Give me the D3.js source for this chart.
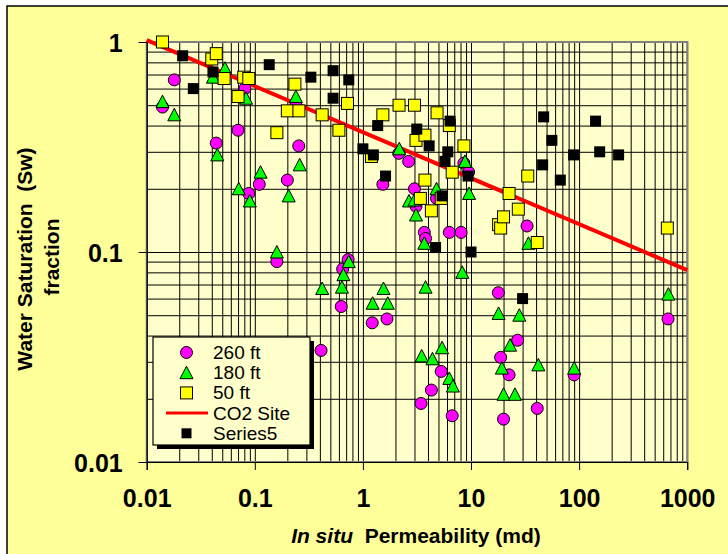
<!DOCTYPE html>
<html>
<head>
<meta charset="utf-8">
<script src="https://cdnjs.cloudflare.com/ajax/libs/d3/7.8.5/d3.min.js"></script>
<style>
  body { margin: 0; background: #fff; }
  svg text { font-family: "Liberation Sans", Arial, sans-serif; }
</style>
</head>
<body>
<script>
// permeability (md), water saturation (fraction)
var ft260 = [[0.014,0.49],[0.018,0.66],[0.044,0.33],[0.07,0.38],[0.081,0.60],[0.088,0.19],[0.11,0.21],
  [0.16,0.09],[0.20,0.22],[0.24,0.50],[0.255,0.32],[0.41,0.034],[0.63,0.055],[0.65,0.083],[0.73,0.092],
  [1.22,0.046],[1.53,0.21],[1.67,0.048],[2.15,0.295],[2.65,0.27],[3.0,0.20],[3.1,0.165],[3.45,0.019],
  [3.7,0.124],[3.8,0.116],[4.3,0.022],[4.8,0.18],[5.3,0.027],[6.3,0.124],[6.7,0.0166],[8.1,0.124],
  [8.6,0.265],[9.5,0.24],[17.9,0.064],[18.8,0.0315],[20,0.016],[22.5,0.026],[27,0.038],[33,0.133],
  [41,0.018],[90,0.026],[665,0.048]];
var ft180 = [[0.014,0.52],[0.018,0.45],[0.041,0.68],[0.045,0.29],[0.053,0.75],[0.071,0.20],[0.083,0.54],
  [0.09,0.175],[0.113,0.24],[0.16,0.10],[0.206,0.185],[0.24,0.55],[0.26,0.26],[0.42,0.067],[0.64,0.068],
  [0.66,0.078],[0.74,0.09],[1.23,0.057],[1.55,0.067],[1.7,0.057],[2.17,0.31],[2.67,0.175],[3.0,0.177],
  [3.1,0.15],[3.5,0.032],[3.7,0.11],[3.8,0.068],[4.4,0.031],[4.8,0.20],[5.4,0.035],[6.3,0.025],[6.8,0.023],
  [8.3,0.080],[8.8,0.27],[9.6,0.19],[18,0.051],[19.3,0.028],[20,0.021],[23,0.036],[25.5,0.021],[28,0.050],
  [34,0.11],[42,0.029],[90,0.028],[670,0.063]];
var ft50 = [[0.014,1.0],[0.040,0.83],[0.044,0.88],[0.052,0.67],[0.070,0.55],[0.079,0.68],[0.088,0.67],
  [0.16,0.37],[0.20,0.47],[0.235,0.63],[0.256,0.47],[0.42,0.45],[0.60,0.38],[0.72,0.51],[1.2,0.285],
  [1.53,0.45],[2.16,0.50],[3.0,0.50],[3.1,0.34],[3.4,0.18],[3.75,0.36],[3.75,0.22],[4.3,0.157],[4.85,0.46],
  [5.3,0.18],[6.3,0.40],[6.7,0.24],[8.6,0.32],[18,0.135],[18.8,0.13],[20,0.147],[22.5,0.19],[27.4,0.16],
  [33.5,0.23],[41,0.111],[655,0.13]];
var series5 = [[0.0215,0.86],[0.027,0.60],[0.041,0.72],[0.136,0.78],[0.33,0.68],[0.53,0.73],[0.53,0.54],
  [0.74,0.66],[1.0,0.31],[1.25,0.29],[1.37,0.40],[1.62,0.23],[3.15,0.385],[4.1,0.32],[4.7,0.105],[5.4,0.185],
  [5.75,0.27],[6.1,0.30],[6.4,0.42],[9.4,0.23],[10,0.10],[30,0.06],[46,0.26],[47,0.44],[56,0.34],[67,0.22],
  [89,0.29],[142,0.42],[155,0.30],[232,0.29]];
var co2Site = [[0.01,1.02],[1000,0.082]];

var xTicks = [0.01,0.1,1,10,100,1000];
var yTicks = [0.01,0.1,1];
var legendNames = ['260 ft','180 ft','50 ft','CO2 Site','Series5'];

var W = 728, H = 554;
var plot = {left: 146.7, top: 42, right: 687.2, bottom: 462};

var svg = d3.select('body').append('svg')
            .attr('width', W)
            .attr('height', H);

// chart area
svg.append('rect').attr('x', 7).attr('y', 6).attr('width', 740).attr('height', 560)
   .attr('fill', '#FFFF99').attr('stroke', '#000').attr('stroke-width', 1.5);

var x = d3.scaleLog().domain([0.01, 1000]).range([plot.left, plot.right]);
var y = d3.scaleLog().domain([0.01, 1]).range([plot.bottom, plot.top]);

svg.append('rect').attr('x', plot.left).attr('y', plot.top)
   .attr('width', plot.right - plot.left).attr('height', plot.bottom - plot.top)
   .attr('fill', '#FFFFCC');

// all 1..9 gridlines per decade
var minorX = [], minorY = [];
for (var d = -2; d < 3; d++) for (var k = 1; k < 10; k++) minorX.push(k * Math.pow(10, d));
minorX.push(1000);
for (var d = -2; d < 0; d++) for (var k = 1; k < 10; k++) minorY.push(k * Math.pow(10, d));
minorY.push(1);

svg.append('g').attr('class', 'gridx')
   .attr('transform', 'translate(0,' + plot.bottom + ')')
   .call(d3.axisBottom(x).tickValues(minorX).tickSize(-(plot.bottom - plot.top)).tickFormat(''))
   .call(function(g){ g.select('.domain').remove(); g.selectAll('line').attr('stroke', '#000'); });

svg.append('g').attr('class', 'gridy')
   .attr('transform', 'translate(' + plot.left + ',0)')
   .call(d3.axisLeft(y).tickValues(minorY).tickSize(-(plot.right - plot.left)).tickFormat(''))
   .call(function(g){ g.select('.domain').remove(); g.selectAll('line').attr('stroke', '#000'); });

svg.append('rect').attr('x', plot.left).attr('y', plot.top)
   .attr('width', plot.right - plot.left).attr('height', plot.bottom - plot.top)
   .attr('fill', 'none').attr('stroke', '#808080').attr('stroke-width', 2);

// axes
var fmt = function(v){ return v < 1 ? String(v) : d3.format('d')(v); };
var xAxis = svg.append('g').attr('transform', 'translate(0,' + plot.bottom + ')')
   .call(d3.axisBottom(x).tickValues(xTicks).tickSize(8).tickPadding(19).tickFormat(fmt));
var yAxis = svg.append('g').attr('transform', 'translate(' + plot.left + ',0)')
   .call(d3.axisLeft(y).tickValues(yTicks).tickSize(8).tickPadding(16).tickFormat(fmt));
[xAxis, yAxis].forEach(function(a){
  a.select('.domain').attr('stroke', '#000').attr('stroke-width', 1.2);
  a.selectAll('line').attr('stroke', '#000');
  a.selectAll('text').attr('fill', '#000').style('font-size', '25px').style('font-weight', 'bold')
   .style('font-family', '"Liberation Sans", Arial, sans-serif');
});
yAxis.selectAll('text').attr('dy', '0.36em');

// titles
var xt = svg.append('text').attr('x', 416).attr('y', 543).attr('text-anchor', 'middle')
   .style('font-size', '21px').style('font-weight', 'bold');
xt.append('tspan').style('font-style', 'italic').text('In situ');
xt.append('tspan').text('\u00a0 Permeability (md)');

svg.append('text').attr('transform', 'translate(32,259) rotate(-90)').attr('text-anchor', 'middle')
   .style('font-size', '21px').style('font-weight', 'bold').text('Water Saturation\u00a0 (Sw)');
svg.append('text').attr('transform', 'translate(59,257) rotate(-90)').attr('text-anchor', 'middle')
   .style('font-size', '21px').style('font-weight', 'bold').text('fraction');

// CO2 site trend
var line = d3.line().x(function(d){ return x(d[0]); }).y(function(d){ return y(d[1]); });
svg.append('path').datum(co2Site).attr('d', line)
   .attr('fill', 'none').attr('stroke', '#FF0000').attr('stroke-width', 4);

var triPath = 'M0,-6.5L6.5,6L-6.5,6Z';

svg.selectAll('circle.a').data(ft260).enter().append('circle')
   .attr('class', 'a')
   .attr('cx', function(d){ return x(d[0]); })
   .attr('cy', function(d){ return y(d[1]); })
   .attr('r', 6)
   .attr('fill', '#FF00FF').attr('stroke', '#000').attr('stroke-width', 1);

svg.selectAll('path.b').data(ft180).enter().append('path')
   .attr('class', 'b')
   .attr('d', triPath)
   .attr('transform', function(d){ return 'translate(' + x(d[0]) + ',' + y(d[1]) + ')'; })
   .attr('fill', '#00FF00').attr('stroke', '#000').attr('stroke-width', 1);

svg.selectAll('rect.c').data(ft50).enter().append('rect')
   .attr('class', 'c')
   .attr('x', function(d){ return x(d[0]) - 6; })
   .attr('y', function(d){ return y(d[1]) - 6; })
   .attr('width', 12).attr('height', 12)
   .attr('fill', '#FFFF00').attr('stroke', '#000').attr('stroke-width', 1);

svg.selectAll('rect.s5').data(series5).enter().append('rect')
   .attr('class', 's5')
   .attr('x', function(d){ return x(d[0]) - 5.5; })
   .attr('y', function(d){ return y(d[1]) - 5.5; })
   .attr('width', 11).attr('height', 11)
   .attr('fill', '#000');

// legend
var lg = svg.append('g').attr('transform', 'translate(153,337)');
lg.append('rect').attr('x', 4).attr('y', 4).attr('width', 157).attr('height', 108).attr('fill', '#000');
lg.append('rect').attr('width', 157).attr('height', 108)
  .attr('fill', '#FFFFCC').attr('stroke', '#000').attr('stroke-width', 1.2);

var rowY = function(i){ return 15.5 + i * 20.2; };
var lx = 33.5;
lg.append('circle').attr('cx', lx).attr('cy', rowY(0)).attr('r', 6)
  .attr('fill', '#FF00FF').attr('stroke', '#000');
lg.append('path').attr('d', triPath).attr('transform', 'translate(' + lx + ',' + rowY(1) + ')')
  .attr('fill', '#00FF00').attr('stroke', '#000');
lg.append('rect').attr('x', lx - 6).attr('y', rowY(2) - 6).attr('width', 12).attr('height', 12)
  .attr('fill', '#FFFF00').attr('stroke', '#000');
lg.append('line').attr('x1', 13).attr('x2', 55).attr('y1', rowY(3)).attr('y2', rowY(3))
  .attr('stroke', '#FF0000').attr('stroke-width', 3);
lg.append('rect').attr('x', lx - 5).attr('y', rowY(4) - 5).attr('width', 10).attr('height', 10)
  .attr('fill', '#000');

lg.selectAll('text.lt').data(legendNames).enter().append('text')
  .attr('class', 'lt')
  .attr('x', 60)
  .attr('y', function(d, i){ return rowY(i) + 6.5; })
  .style('font-size', '19px')
  .text(function(d){ return d; });
</script>
</body>
</html>
